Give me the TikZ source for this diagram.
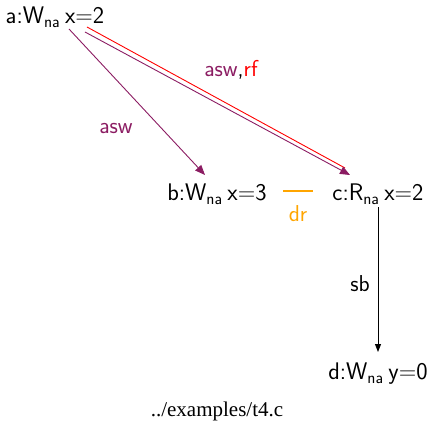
\documentclass[tikz,border=0pt]{standalone}
\usepackage{fontspec}
\newfontfamily\capfont{Liberation Serif}
\usepackage{xcolor}
\usetikzlibrary{arrows.meta}

\definecolor{aswcol}{RGB}{139,28,98}
\definecolor{drcol}{RGB}{255,165,0}
\newcommand{\evsp}{\hspace{0.2em}}

\begin{document}
\begin{tikzpicture}[
  x=1pt, y=-1pt,
  ev/.style={inner sep=2pt, font=\fontsize{24}{27}\selectfont\sffamily},
  lbl/.style={inner sep=1pt, font=\fontsize{23}{26}\selectfont\sffamily},
  arr/.style={-{Triangle[length=10pt, width=8pt]}, line width=0.9pt},
  every node/.style={anchor=center}
]
  \useasboundingbox (0,0) rectangle (427,430);

  % Events
  \node[ev] (a) at (55,17) {a:W\textsubscript{na}\evsp x=2};
  \node[ev] (b) at (217,194) {b:W\textsubscript{na}\evsp x=3};
  \node[ev] (c) at (378,194) {c:R\textsubscript{na}\evsp x=2};
  \node[ev] (d) at (378,374) {d:W\textsubscript{na}\evsp y=0};

  % Labels
  \node[lbl, text=aswcol] (l1) at (116,129) {asw};
  \node[lbl] (l2) at (231,70) {\textcolor{aswcol}{asw},\textcolor{red}{rf}};
  \node[lbl, text=drcol] (l3) at (298,214) {dr};
  \node[lbl] (l4) at (360,284) {sb};

  % Caption
  \node[font=\fontsize{21}{24}\selectfont\capfont] (cap) at (217,411) {../examples/t4.c};

  % Arrows
  \draw[arr, aswcol] ([shift={(14,12)}]a.center) -- ([shift={(-12,-19)}]b.center);
  \draw[red, line width=0.9pt] ([shift={(32,10)}]a.center) -- ([shift={(-33,-26)}]c.center);
  \draw[arr, aswcol] ([shift={(30,15)}]a.center) -- ([shift={(-28,-19)}]c.center);
  \draw[drcol, line width=1.3pt] ([shift={(66,-3)}]b.center) -- ([shift={(-65,-3)}]c.center);
  \draw[arr, black, -{Triangle[length=8pt, width=6pt]}] ([shift={(0,13)}]c.center) -- ([shift={(0,-22)}]d.center);
\end{tikzpicture}
\end{document}
